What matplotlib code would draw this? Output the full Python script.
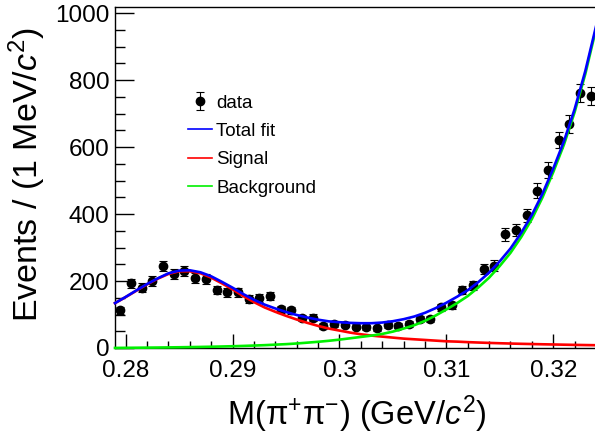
import numpy as np
import matplotlib
matplotlib.use("Agg")
import matplotlib.pyplot as plt
from matplotlib.ticker import MultipleLocator, FixedLocator
from matplotlib.lines import Line2D

plt.rcParams['font.family'] = ['Liberation Sans', 'DejaVu Sans']
plt.rcParams['mathtext.fontset'] = 'custom'
plt.rcParams['mathtext.rm'] = 'Liberation Sans'
plt.rcParams['mathtext.it'] = 'Liberation Sans:italic'
plt.rcParams['mathtext.bf'] = 'Liberation Sans:bold'

# ---- data (1 MeV bins) ----
bin_centers = [0.2795, 0.2805, 0.2815, 0.2825, 0.2835, 0.2845, 0.2855, 0.2865, 0.2875, 0.2885,
               0.2895, 0.2905, 0.2915, 0.2925, 0.2935, 0.2945, 0.2955, 0.2965, 0.2975, 0.2985,
               0.2995, 0.3005, 0.3015, 0.3025, 0.3035, 0.3045, 0.3055, 0.3065, 0.3075, 0.3085,
               0.3095, 0.3105, 0.3115, 0.3125, 0.3135, 0.3145, 0.3155, 0.3165, 0.3175, 0.3185,
               0.3195, 0.3205, 0.3215, 0.3225, 0.3235]
counts = [113, 193, 180, 200, 244, 221, 230, 210, 206, 173,
          166, 166, 146, 150, 155, 116, 112, 89, 91, 66,
          71, 70, 64, 62, 59, 69, 67, 72, 87, 87,
          121, 127, 173, 187, 236, 246, 339, 352, 396, 470,
          531, 621, 669, 762, 752]

# ---- fit curves ----
curve_x = [0.279, 0.280, 0.281, 0.282, 0.283, 0.284, 0.285, 0.286, 0.287, 0.288,
           0.289, 0.290, 0.291, 0.292, 0.293, 0.294, 0.295, 0.296, 0.297, 0.298,
           0.299, 0.300, 0.301, 0.302, 0.303, 0.304, 0.305, 0.306, 0.307, 0.308,
           0.309, 0.310, 0.311, 0.312, 0.313, 0.314, 0.315, 0.316, 0.317, 0.318,
           0.319, 0.320, 0.321, 0.322, 0.323, 0.324]
signal = [134, 152, 171, 190, 207, 221, 229, 229, 223, 210,
          193, 175, 155, 137, 121, 108, 96, 85, 75, 66,
          58, 52, 46, 41, 37, 34, 31, 28, 26, 24,
          22, 20, 19, 17.5, 16.3, 15.2, 14.2, 13.3, 12.5, 11.8,
          11.1, 10.5, 9.9, 9.3, 8.8, 8.3]
background = [0.2, 0.5, 0.8, 1.1, 1.4, 1.8, 2.2, 2.7, 3.2, 3.8,
              4.5, 5.3, 6.2, 7.3, 8.5, 10, 11.5, 13.5, 16, 18.5,
              21.5, 25, 29, 33, 37, 42, 49, 58, 68, 81,
              97, 115, 134, 155, 181, 210, 245, 284, 331, 385,
              450, 525, 607, 704, 818, 952]
total_fit = [134, 152.5, 172, 191, 208, 223, 231, 232, 226, 214,
             197.5, 180, 161, 144, 129.5, 118, 107.5, 98.5, 91, 84.5,
             79.5, 77, 75, 74, 74, 76, 80, 86, 94, 105,
             119, 135, 153, 172.5, 197, 225, 259, 297, 343.5, 397,
             461, 535.5, 617, 713, 827, 960]

x_ticks = [0.28, 0.29, 0.30, 0.31, 0.32]
x_tick_labels = ['0.28', '0.29', '0.3', '0.31', '0.32']
y_ticks = [0, 200, 400, 600, 800, 1000]
y_tick_labels = ['0', '200', '400', '600', '800', '1000']

W, H = 595, 434
fig = plt.figure(figsize=(W / 100, H / 100), dpi=100)
ax = fig.add_axes([115 / W, 86 / H, 481 / W, 341 / H])

c = np.array(counts, dtype=float)
eb = ax.errorbar(bin_centers, counts, yerr=np.sqrt(c), fmt='o', color='black',
                 ms=6, capsize=2.8, elinewidth=0.8, capthick=0.8, zorder=3,
                 label='data')

ax.plot(curve_x, signal, color='#ff0000', lw=1.9, zorder=4, clip_on=False)
ax.plot(curve_x, background, color='#00f000', lw=1.9, zorder=4, clip_on=False)
ax.plot(curve_x, total_fit, color='#0000ff', lw=1.9, zorder=5, clip_on=False)

ax.set_xlim(0.279, 0.324)
ax.set_ylim(0, 1018)
ax.xaxis.set_major_locator(FixedLocator(x_ticks))
ax.set_xticklabels(x_tick_labels)
ax.xaxis.set_minor_locator(MultipleLocator(0.002))
ax.yaxis.set_major_locator(FixedLocator(y_ticks))
ax.set_yticklabels(y_tick_labels)
ax.yaxis.set_minor_locator(MultipleLocator(50))

ax.tick_params(axis='x', which='major', direction='in', length=10, width=1, labelsize=17.5, pad=8.5)
ax.tick_params(axis='x', which='minor', direction='in', length=5, width=1)
ax.tick_params(axis='y', which='major', direction='in', length=14, width=1, labelsize=17.5, pad=4)
ax.tick_params(axis='y', which='minor', direction='in', length=7, width=1)
for s in ['left', 'bottom', 'top']:
    ax.spines[s].set_linewidth(1)
    ax.spines[s].set_color('black')
ax.spines['right'].set_visible(False)

ax.set_xlabel(r'M(π$^{+}$π$^{-}$) (GeV/$c^{2}$)', fontsize=23.5, va='center')
ax.xaxis.set_label_coords(0.503, -0.195)
ax.set_ylabel(r'Events / (1 MeV/$c^{2}$)', fontsize=24.5, va='center')
ax.yaxis.set_label_coords(-0.183, 0.51)

handles = [eb,
           Line2D([], [], color='#0000ff', lw=1.2),
           Line2D([], [], color='#ff0000', lw=1.2),
           Line2D([], [], color='#00f000', lw=1.2)]
labels = ['data', 'Total fit', 'Signal', 'Background']
leg = fig.legend(handles, labels, loc='upper left', bbox_to_anchor=(188 / W, 1 - 94.5 / H),
                 frameon=False, fontsize=13.5, handlelength=1.3, handletextpad=0.22,
                 labelspacing=0.6, borderpad=0, borderaxespad=0)

fig.savefig('out.png', dpi=100)
